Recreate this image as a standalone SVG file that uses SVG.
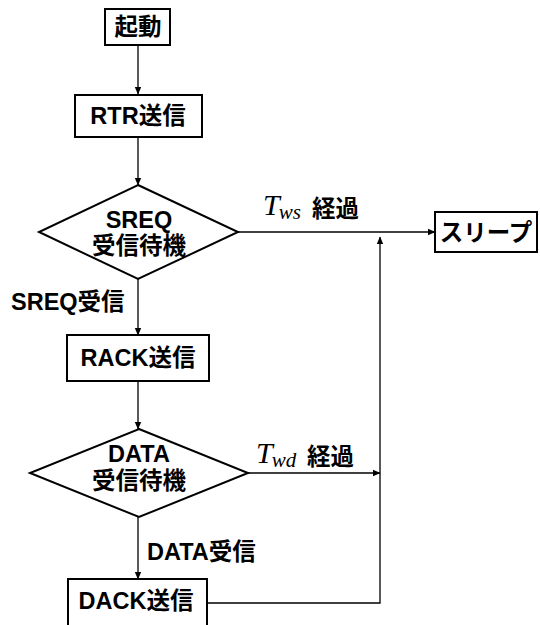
<svg xmlns="http://www.w3.org/2000/svg" width="540" height="625" viewBox="0 0 540 625">
<defs>
<marker id="ah" markerWidth="8" markerHeight="8" refX="7" refY="4" orient="auto" markerUnits="userSpaceOnUse">
<path d="M0,0.8 L7.5,4 L0,7.2 Z" fill="#000"/>
</marker>
<style>
.box{fill:#fff;stroke:#000;stroke-width:2}
.lbl{font-family:"Liberation Sans","Noto Sans CJK JP",sans-serif;font-weight:bold;font-size:23.5px;fill:#000}
.mid{text-anchor:middle}
.math{font-family:"Liberation Serif","DejaVu Serif",serif;font-style:italic;fill:#000}
.con{fill:none;stroke:#000;stroke-width:1.3}
</style>
</defs>
<rect width="540" height="625" fill="#fff"/>
<g id="connectors">
<line class="con" x1="138" y1="45" x2="138" y2="94" marker-end="url(#ah)"/>
<line class="con" x1="138" y1="137" x2="138" y2="185" marker-end="url(#ah)"/>
<line class="con" x1="138" y1="279" x2="138" y2="335" marker-end="url(#ah)"/>
<line class="con" x1="138" y1="381" x2="138" y2="429" marker-end="url(#ah)"/>
<line class="con" x1="138" y1="517" x2="138" y2="579" marker-end="url(#ah)"/>
<line class="con" x1="238" y1="232" x2="435" y2="232" marker-end="url(#ah)"/>
<line class="con" x1="248" y1="473" x2="380" y2="473" marker-end="url(#ah)"/>
<polyline class="con" points="207,603 380,603 380,237" marker-end="url(#ah)"/>
<text class="lbl" x="11" y="310">SREQ受信</text>
<text class="lbl" x="147" y="560">DATA受信</text>
<g id="tws"><text class="math" x="263" y="215" font-size="30">T<tspan font-size="21" dx="-1" dy="4">ws</tspan></text>
<text class="lbl" x="312" y="217">経過</text></g>
<g id="twd"><text class="math" x="256" y="463" font-size="30">T<tspan font-size="21" dx="-1" dy="4">wd</tspan></text>
<text class="lbl" x="307" y="465">経過</text></g>
</g>
<g id="start"><rect class="box" x="105" y="9" width="65" height="36"/><text class="lbl mid" x="138" y="35">起動</text></g>
<g id="rtr"><rect class="box" x="75" y="95" width="127" height="42"/><text class="lbl mid" x="138" y="124">RTR送信</text></g>
<g id="sreqwait"><polygon class="box" points="138,185 238,232 138,279 39,232"/>
<text class="lbl mid" x="139" y="228">SREQ</text><text class="lbl mid" x="139" y="254">受信待機</text></g>
<g id="rack"><rect class="box" x="67" y="335" width="142" height="46"/><text class="lbl mid" x="138" y="366">RACK送信</text></g>
<g id="datawait"><polygon class="box" points="139,429 248,473 139,517 30,473"/>
<text class="lbl mid" x="139" y="462">DATA</text><text class="lbl mid" x="139" y="489">受信待機</text></g>
<g id="dack"><rect class="box" x="68" y="579" width="139" height="52"/><text class="lbl mid" x="136" y="609">DACK送信</text></g>
<g id="sleep"><rect class="box" x="435" y="212" width="102" height="40"/><text class="lbl mid" x="486" y="241">スリープ</text></g>
</svg>
